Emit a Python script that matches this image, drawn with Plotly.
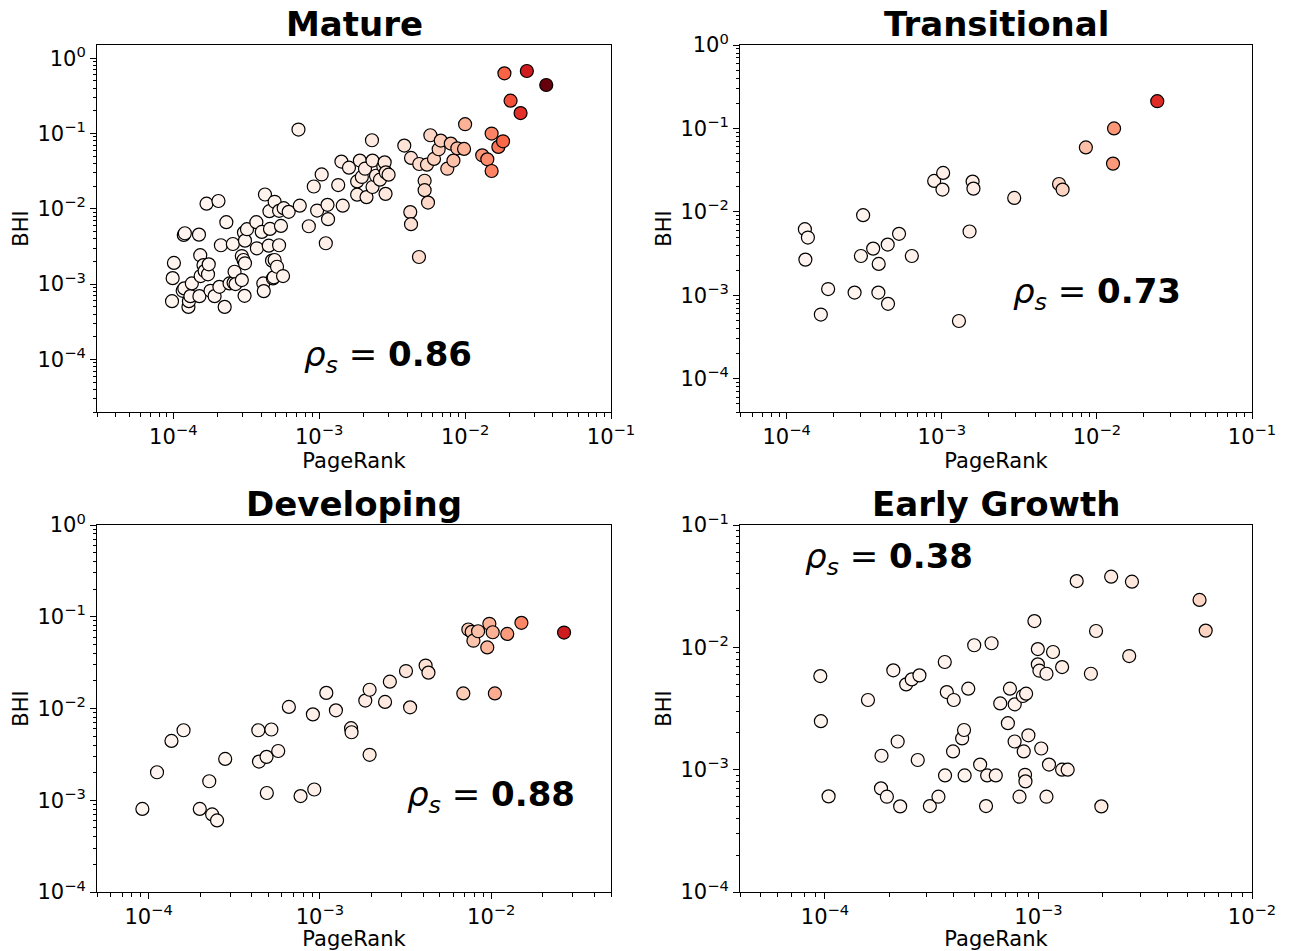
import numpy as np
import plotly.graph_objects as go
from plotly.colors import sequential

# ---------------- data ----------------
panel_titles = ["Mature", "Transitional", "Developing", "Early Growth"]
rho_values = ["0.86", "0.73", "0.88", "0.38"]

mature_pr = [1.86e-2, 2.65e-2, 3.6e-2, 2.05e-2, 2.4e-2, 1.0e-2, 1.52e-2, 1.82e-2, 1.69e-2, 1.31e-2,
             1.42e-2, 1.52e-2, 5.78e-3, 6.81e-3, 7.98e-3, 6.59e-3, 8.85e-3, 9.84e-3, 8.32e-3, 7.55e-3,
             6.12e-3, 5.48e-3, 4.85e-3, 4.26e-3, 3.83e-3, 5.28e-3, 5.28e-3, 5.57e-3, 4.21e-3, 4.26e-3,
             4.83e-3,
             2.3e-3, 1.42e-3, 1.6e-3, 1.9e-3, 2.32e-3, 2.81e-3, 2.75e-3, 2.06e-3, 1.82e-3, 1.96e-3,
             2.45e-3, 2.61e-3, 2.99e-3, 2.86e-3, 2.32e-3, 2.11e-3, 1.82e-3, 2.85e-3, 1.04e-3, 9.18e-4,
             1.35e-3, 7.36e-4, 9.68e-4, 1.14e-3, 1.45e-3, 1.15e-3, 8.49e-4, 1.11e-3, 7.21e-4,
             1.69e-4, 2.04e-4, 4.25e-4, 4.95e-4, 5.71e-4, 6.18e-4, 5.31e-4, 4.56e-4, 2.31e-4, 3.71e-4,
             4.04e-4, 4.6e-4, 5.47e-4, 3.2e-4, 3.05e-4, 1.2e-4, 1.18e-4, 1.5e-4, 2.12e-4, 2.56e-4,
             3.1e-4, 3.74e-4, 4.51e-4, 5.31e-4, 1.01e-4, 1.53e-4, 1.61e-4, 1.75e-4, 1.64e-4, 1.73e-4,
             1.54e-4, 9.9e-5, 2.95e-4, 3.03e-4, 3.1e-4, 4.75e-4, 4.95e-4, 5.14e-4, 4.82e-4, 5.65e-4,
             2.63e-4, 2.67e-4, 2.59e-4, 2.95e-4, 2.43e-4, 2.07e-4, 1.8e-4, 1.92e-4, 1.34e-4, 1.19e-4,
             1.16e-4, 1.31e-4, 1.51e-4, 9.8e-5, 1.27e-4, 1.28e-4, 2.25e-4, 3.08e-4, 4.14e-4, 4.17e-4,
             4.88e-4]
mature_bhi = [0.631, 0.677, 0.441, 0.273, 0.187, 0.133, 0.1, 7.89e-2, 6.65e-2, 5.14e-2,
              4.54e-2, 3.18e-2, 9.49e-2, 8.07e-2, 7.36e-2, 6.18e-2, 6.37e-2, 6.25e-2, 4.37e-2, 3.41e-2,
              4.6e-2, 3.86e-2, 3.94e-2, 4.74e-2, 6.92e-2, 2.36e-2, 1.77e-2, 1.21e-2, 9.04e-3, 6.25e-3,
              2.29e-3,
              8.15e-2, 4.24e-2, 3.52e-2, 4.37e-2, 4.37e-2, 4.14e-2, 3.66e-2, 3.41e-2, 2.31e-2, 2.65e-2,
              2.75e-2, 2.44e-2, 2.84e-2, 3.05e-2, 1.95e-2, 1.43e-2, 1.54e-2, 1.58e-2, 2.86e-2, 1.98e-2,
              2.07e-2, 1.1e-2, 9.49e-3, 1.13e-2, 1.1e-2, 7.29e-3, 5.87e-3, 3.49e-3, 0.113,
              1.17e-2, 1.27e-2, 1.55e-2, 1.24e-2, 1.02e-2, 9.12e-3, 9.4e-3, 9.31e-3, 6.65e-3, 6.65e-3,
              4.93e-3, 5.41e-3, 5.93e-3, 5.36e-3, 4.83e-3, 4.74e-3, 4.5e-3, 4.54e-3, 3.28e-3, 3.41e-3,
              3.78e-3, 2.99e-3, 3.24e-3, 3.28e-3, 1.91e-3, 2.42e-3, 1.79e-3, 1.83e-3, 1.49e-3, 1.35e-3,
              1.28e-3, 1.2e-3, 2.36e-3, 2.09e-3, 1.89e-3, 2.05e-3, 2.09e-3, 1.7e-3, 1.19e-3, 1.28e-3,
              1.46e-3, 1.0e-3, 1.04e-3, 1.13e-3, 1.02e-3, 9.2e-4, 8.15e-4, 6.92e-4, 1.02e-3, 8.77e-4,
              8.15e-4, 6.92e-4, 6.92e-4, 5.93e-4, 4.98e-4, 5.93e-4, 4.98e-4, 6.98e-4, 1.02e-3, 8.07e-4,
              1.23e-3]

transitional_pr = [2.45e-2, 1.29e-2, 8.49e-3, 1.27e-2, 1.02e-3, 8.93e-4, 1.01e-3, 1.58e-3, 1.6e-3, 2.93e-3,
                   5.7e-3, 6.01e-3, 3.11e-4, 1.31e-4, 1.37e-4, 1.32e-4, 5.3e-4, 4.48e-4, 3.61e-4, 3.01e-4,
                   3.92e-4, 6.41e-4, 1.51e-3, 1.85e-4, 2.74e-4, 3.9e-4, 4.5e-4, 1.66e-4, 1.29e-3]
transitional_bhi = [0.212, 0.1, 5.92e-2, 3.79e-2, 2.93e-2, 2.35e-2, 1.85e-2, 2.31e-2, 1.9e-2, 1.47e-2,
                    2.16e-2, 1.85e-2, 9.14e-3, 6.21e-3, 4.93e-3, 2.68e-3, 5.46e-3, 4.06e-3, 3.63e-3, 2.96e-3,
                    2.38e-3, 2.96e-3, 5.82e-3, 1.19e-3, 1.08e-3, 1.08e-3, 7.91e-4, 5.89e-4, 4.93e-4]

developing_pr = [2.66e-2, 1.5e-2, 9.75e-3, 1.02e-2, 1.24e-2, 7.35e-3, 8.38e-3, 7.69e-3, 7.87e-3, 9.48e-3,
                 6.87e-3, 1.05e-2, 4.14e-3, 4.3e-3, 3.18e-3, 2.56e-3, 1.95e-3, 1.84e-3, 2.4e-3, 3.36e-3,
                 1.09e-3, 6.59e-4, 9.1e-4, 1.24e-3, 1.52e-3, 1.53e-3, 1.95e-3, 4.37e-4, 5.21e-4, 1.6e-4,
                 1.36e-4, 2.8e-4, 4.88e-4, 5.71e-4, 4.41e-4, 1.12e-4, 2.26e-4, 4.9e-4, 7.71e-4, 9.27e-4,
                 9.2e-5, 1.99e-4, 2.35e-4, 2.51e-4]
developing_bhi = [6.73e-2, 8.59e-2, 8.38e-2, 6.78e-2, 6.5e-2, 7.26e-2, 6.95e-2, 6.84e-2, 5.48e-2, 4.63e-2,
                  1.46e-2, 1.46e-2, 2.94e-2, 2.46e-2, 2.56e-2, 1.96e-2, 1.6e-2, 1.22e-2, 1.18e-2, 1.03e-2,
                  1.48e-2, 1.04e-2, 8.63e-3, 9.55e-3, 6.1e-3, 5.51e-3, 3.13e-3, 5.79e-3, 5.9e-3, 5.79e-3,
                  4.43e-3, 2.82e-3, 2.97e-3, 3.44e-3, 2.64e-3, 2.02e-3, 1.61e-3, 1.2e-3, 1.11e-3, 1.31e-3,
                  8.04e-4, 8.04e-4, 7.01e-4, 6.03e-4]

early_pr = [1.51e-3, 2.19e-3, 2.74e-3, 5.68e-3, 6.07e-3, 9.57e-4, 1.86e-3, 5.0e-4, 6.03e-4, 3.64e-4,
            9.93e-4, 1.17e-3, 2.66e-3, 9.93e-4, 1.01e-3, 1.09e-3, 1.29e-3, 1.76e-3, 9.51e-5, 2.09e-4,
            2.55e-4, 2.77e-4, 2.4e-4, 1.59e-4, 3.72e-4, 4.01e-4, 4.69e-4, 7.35e-4, 8.75e-4, 8.45e-4,
            6.62e-4, 7.74e-4, 9.57e-5, 7.19e-4, 4.48e-4, 4.39e-4, 2.19e-4, 1.84e-4, 2.72e-4, 3.98e-4,
            7.73e-4, 8.97e-4, 8.53e-4, 1.03e-3, 5.33e-4, 3.65e-4, 4.51e-4, 5.75e-4, 6.31e-4, 8.65e-4,
            8.69e-4, 1.12e-3, 1.29e-3, 1.37e-3, 1.04e-4, 1.83e-4, 1.95e-4, 2.25e-4, 3.1e-4, 3.4e-4,
            5.68e-4, 8.15e-4, 1.09e-3, 1.97e-3]
early_bhi = [3.48e-2, 3.78e-2, 3.44e-2, 2.44e-2, 1.37e-2, 1.64e-2, 1.36e-2, 1.04e-2, 1.08e-2, 7.59e-3,
             9.68e-3, 9.16e-3, 8.49e-3, 7.26e-3, 6.44e-3, 6.08e-3, 6.9e-3, 6.08e-3, 5.82e-3, 6.49e-3,
             5.47e-3, 5.9e-3, 4.98e-3, 3.71e-3, 4.31e-3, 3.71e-3, 4.59e-3, 4.59e-3, 4.18e-3, 4.0e-3,
             3.48e-3, 3.42e-3, 2.49e-3, 2.4e-3, 2.11e-3, 1.8e-3, 1.7e-3, 1.3e-3, 1.2e-3, 1.41e-3,
             1.7e-3, 1.91e-3, 1.41e-3, 1.49e-3, 1.1e-3, 8.97e-4, 8.97e-4, 8.97e-4, 8.97e-4, 9.08e-4,
             8.02e-4, 1.1e-3, 1.0e-3, 1.0e-3, 6.05e-4, 7.03e-4, 6.01e-4, 5.01e-4, 5.04e-4, 6.01e-4,
             5.04e-4, 6.01e-4, 6.01e-4, 5.01e-4]

x_tick_exps = [[-4, -3, -2, -1], [-4, -3, -2, -1], [-4, -3, -2], [-4, -3, -2]]
y_tick_exps = [[-4, -3, -2, -1, 0], [-4, -3, -2, -1, 0], [-4, -3, -2, -1, 0], [-4, -3, -2, -1]]

# ---------------- layout / style ----------------
x_limits = [(3e-5, 1e-1), (5e-5, 1e-1), (5e-5, 5e-2), (4e-5, 1e-2)]
y_limits = [(2e-5, 1.5), (4e-5, 1.0), (1e-4, 1.0), (1e-4, 1e-1)]

W, H = 1290, 951
col_px = [(97, 611), (740, 1252)]
row_px = [(45, 412), (525, 892)]

panels = [(mature_pr, mature_bhi), (transitional_pr, transitional_bhi),
          (developing_pr, developing_bhi), (early_pr, early_bhi)]
rho_pos = [(0.567, 0.15), (0.698, 0.324), (0.7675, 0.259), (0.291, 0.91)]

all_pr = np.concatenate([np.asarray(p[0]) for p in panels])
cmax = float(all_pr.max())
reds = sequential.Reds
colorscale = [[i / (len(reds) - 1), c] for i, c in enumerate(reds)]

FONT = "DejaVu Sans"
minor_vals = [m * 10.0 ** e for e in range(-6, 1) for m in range(2, 10)]


def sup_label(e):
    return "10<sup>" + (str(e).replace("-", "\u2212")) + "</sup>"


fig = go.Figure()
annotations = []
layout_axes = {}

for i, (pr, bhi) in enumerate(panels):
    r, c = divmod(i, 2)
    n = i + 1
    xa = "x" if n == 1 else f"x{n}"
    ya = "y" if n == 1 else f"y{n}"
    pr_a = np.asarray(pr)
    bhi_a = np.asarray(bhi)
    order = np.argsort(pr_a)
    fig.add_trace(go.Scatter(
        x=pr_a[order], y=bhi_a[order], mode="markers", xaxis=xa, yaxis=ya,
        showlegend=False,
        marker=dict(size=13, color=pr_a[order], colorscale=colorscale, cmin=0, cmax=cmax,
                    line=dict(color="black", width=1.2), opacity=1),
    ))
    x0, x1 = col_px[c]
    y0, y1 = row_px[r]
    xdom = [x0 / W, x1 / W]
    ydom = [1 - y1 / H, 1 - y0 / H]
    common = dict(type="log", showline=True, mirror=True, linecolor="black", linewidth=1,
                  ticks="outside", ticklen=6, tickwidth=1, tickcolor="black",
                  tickmode="array", showgrid=False, zeroline=False, automargin=False,
                  tickfont=dict(family=FONT, size=21, color="black"),
                  minor=dict(ticks="outside", ticklen=3.5, tickwidth=0.8, tickcolor="black",
                             tickmode="array", tickvals=minor_vals, showgrid=False))
    layout_axes["xaxis" if n == 1 else f"xaxis{n}"] = dict(
        common, domain=xdom, anchor=ya,
        range=[np.log10(x_limits[i][0]), np.log10(x_limits[i][1])],
        tickvals=[10.0 ** e for e in x_tick_exps[i]],
        ticktext=[sup_label(e) for e in x_tick_exps[i]],
        title=dict(text="PageRank", font=dict(family=FONT, size=21, color="black"), standoff=0))
    layout_axes["yaxis" if n == 1 else f"yaxis{n}"] = dict(
        common, domain=ydom, anchor=xa,
        range=[np.log10(y_limits[i][0]), np.log10(y_limits[i][1])],
        tickvals=[10.0 ** e for e in y_tick_exps[i]],
        ticktext=[sup_label(e) for e in y_tick_exps[i]],
        title=dict(text="BHI", font=dict(family=FONT, size=21, color="black"), standoff=3))
    # panel title
    annotations.append(dict(text="<b>" + panel_titles[i] + "</b>", xref="paper", yref="paper",
                            x=(xdom[0] + xdom[1]) / 2, y=1 - (y0 - 21) / H,
                            xanchor="center", yanchor="middle", showarrow=False,
                            font=dict(family=FONT, size=34, color="black")))
    # spearman annotation
    rx, ry = rho_pos[i]
    annotations.append(dict(text="<i>\u03c1</i><sub><i>s</i></sub> = <b>" + rho_values[i] + "</b>",
                            xref=f"{xa} domain", yref=f"{ya} domain", x=rx, y=ry,
                            xanchor="center", yanchor="middle", showarrow=False,
                            font=dict(family=FONT, size=34, color="black")))

fig.update_layout(**layout_axes)
fig.update_layout(width=W, height=H, autosize=False, margin=dict(l=0, r=0, t=0, b=0, autoexpand=False),
                  paper_bgcolor="white", plot_bgcolor="white",
                  font=dict(family=FONT, color="black"), annotations=annotations)

fig.write_html("out.html", config={"displayModeBar": False},
               post_script="document.body.style.margin='0';document.body.style.padding='0';")
